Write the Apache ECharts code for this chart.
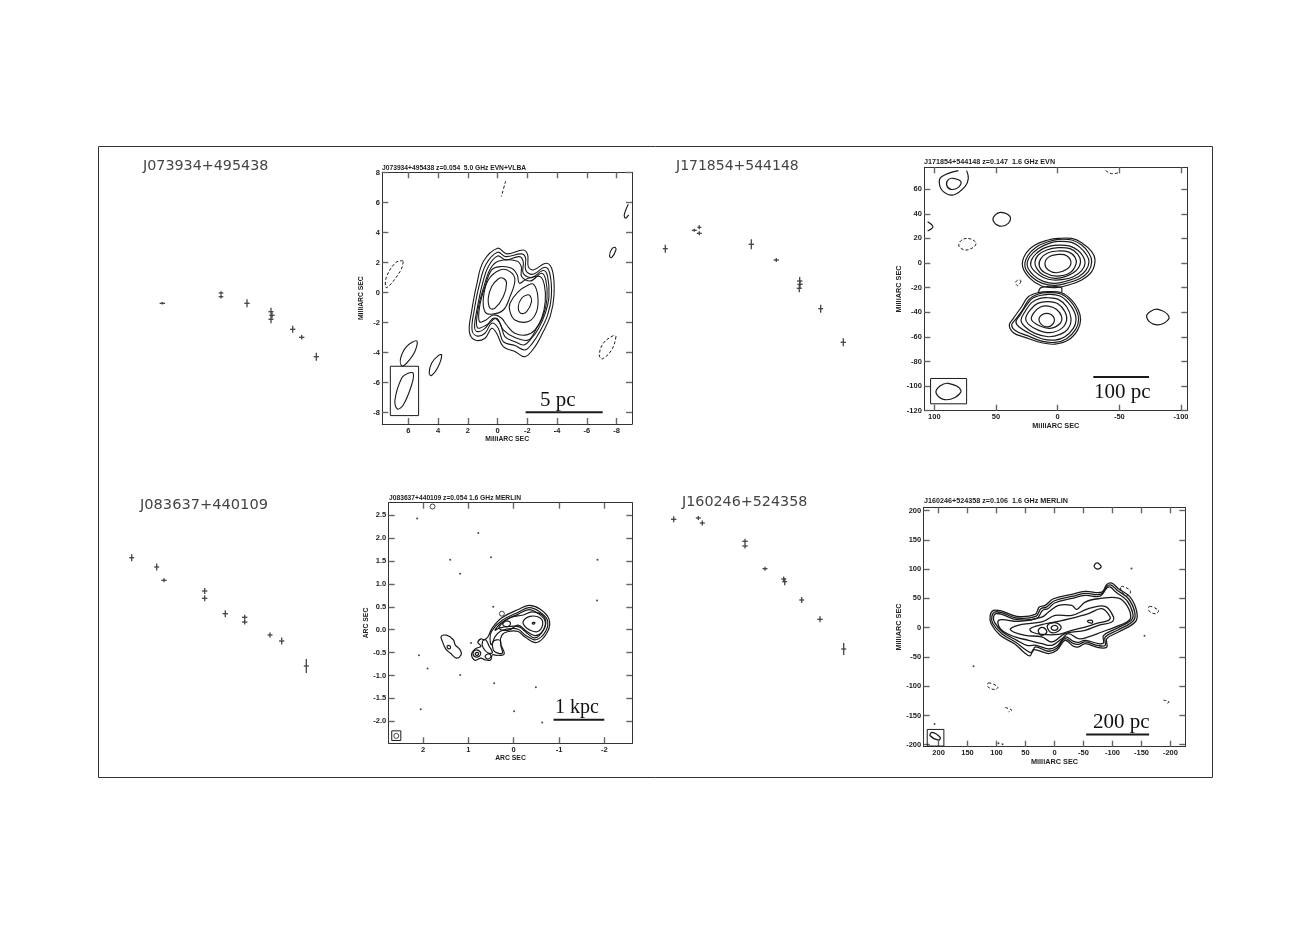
<!DOCTYPE html>
<html>
<head>
<meta charset="utf-8">
<title>Radio maps and spectra</title>
<script src="https://cdn.jsdelivr.net/npm/echarts@6/dist/echarts.min.js"></script>
<style>
  html, body { margin: 0; background: #fff; }
  #main { width: 1311px; height: 926px; }
</style>
</head>
<body>
<div id="main"></div>
<script>
// spectra: [x, y, xErr, yErr] - the originals print no scale, so units are just what was read off
const specJ0739 = [[62.3,76.7,2.7,1.3],[121,87,2.3,1.7],[121,83.3,2.3,1.7],[147,76.7,2.7,4],[171,68.3,2.5,4],[172,64.7,2.7,3],[171,60.7,2.5,4],[192.7,50.7,2.7,3.5],[201.7,42.7,2.7,2.3],[216.3,23.3,2.7,4]];
const specJ1718 = [[25.3,131.3,2.5,4],[54.3,149.7,2.5,1.5],[59.3,152.7,2,2],[59.3,146.7,2.5,2],[111.3,135.7,2.7,5],[136.3,120,2.7,2],[159.7,99,2.7,4],[160,95.7,2.7,4],[159.3,91.7,2.5,4],[180.7,71.3,2.5,4],[203.3,37.7,2.7,4]];
const specJ0836 = [[31.7,132.3,2.5,3.5],[56.7,123,2.5,3.5],[64,109.7,2.7,2],[104.7,99,2.7,3],[104.7,91.7,2.7,3],[125.3,76.3,2.7,3.5],[144.7,72.7,2.7,2.5],[144.7,68,2.7,2.5],[170,55,2.5,2.5],[181.7,49,2.7,3.5],[206.3,24,2.5,7]];
const specJ1602 = [[33.7,150.7,2.7,3],[58.3,152,2.5,2],[62.3,147,2.5,2.5],[105,128.7,2.7,2.5],[105,124,2.7,2.5],[125,101.3,2.5,2],[143.7,91,2.5,2.5],[144.7,88.3,2.5,3.5],[161.7,70,2.5,3],[180,50.7,2.7,3],[203.7,21,2.5,6]];

// J073934 contours, mas
const a1 = [[0,2.96],[-0.6,2.58],[-1.72,2.84],[-2.02,2.51],[-2.06,1.73],[-2.4,1.51],[-3.29,1.96],[-3.7,1.4],[-3.79,-0.16],[-3.56,-1.49],[-3.07,-2.6],[-2.51,-3.6],[-1.84,-4.27],[-1.16,-3.93],[-0.38,-3.6],[0.07,-2.71],[0.4,-2.38],[0.85,-3.04],[1.52,-3.16],[1.9,-2.6],[1.75,-1.27],[1.41,0.51],[0.96,2.07]];
const a2 = [[0,2.69],[-0.54,2.4],[-1.61,2.58],[-1.88,2.29],[-1.88,1.51],[-2.35,1.22],[-3.2,1.69],[-3.52,1.22],[-3.61,-0.27],[-3.36,-1.49],[-2.84,-2.6],[-2.33,-3.38],[-1.84,-3.82],[-1.16,-3.53],[-0.38,-3.27],[-0.04,-2.38],[0.4,-2.04],[0.85,-2.71],[1.41,-2.89],[1.72,-2.49],[1.57,-1.16],[1.23,0.51],[0.78,1.89]];
const a3 = [[0,2.44],[-0.54,2.18],[-1.46,2.4],[-1.72,2.07],[-1.72,1.29],[-2.28,1],[-3.07,1.47],[-3.36,1.07],[-3.45,-0.27],[-3.2,-1.38],[-2.73,-2.42],[-2.28,-3.04],[-1.77,-3.49],[-1.16,-3.27],[-0.49,-2.93],[-0.16,-2.04],[0.29,-1.71],[0.85,-2.38],[1.37,-2.6],[1.55,-2.27],[1.37,-1.04],[1.05,0.47],[0.63,1.73]];
const a4 = [[-0.09,2.11],[-1.28,2.11],[-1.59,1.73],[-1.61,1.07],[-2.22,0.78],[-2.96,1.29],[-3.25,0.78],[-3.32,-0.38],[-3.07,-1.53],[-2.62,-2.38],[-2.06,-3.16],[-1.16,-3],[-0.38,-2.49],[0.07,-1.71],[0.74,-2.16],[1.37,-2.33],[1.3,-1.04],[0.92,0.4],[0.47,1.62]];
const a5 = [[-0.16,1.73],[-0.94,1.62],[-1.32,1.18],[-1.46,0.62],[-1.95,0.91],[-2.84,1.07],[-3.14,0.51],[-3.2,-0.6],[-2.96,-1.71],[-2.51,-2.49],[-1.95,-2.82],[-1.16,-2.71],[-0.6,-2.16],[-0.27,-1.71],[0.29,-1.49],[0.78,-1.82],[1.23,-1.93],[1.19,-0.82],[0.85,0.4],[0.4,1.51]];
const aLeft1 = [[-0.16,1.51],[-0.83,1.4],[-1.16,0.84],[-0.83,-0.27],[-0.38,-1.16],[0.4,-1.44],[0.85,-1.27],[0.96,-0.38],[0.63,0.84]];
const aLeft2 = [[-0.38,0.96],[-0.6,0.62],[-0.38,-0.27],[0.18,-1.04],[0.51,-1.04],[0.63,-0.38],[0.4,0.4],[-0.04,0.91]];
const aRight1 = [[-2.4,0.56],[-2.69,-0.16],[-2.62,-1.27],[-2.06,-1.93],[-1.16,-1.82],[-0.83,-1.27],[-0.83,-0.71],[-1.39,0.07],[-2.06,0.51]];
const aRight2 = [[-2.17,-0.2],[-2.28,-0.6],[-1.95,-1.27],[-1.55,-1.38],[-1.39,-0.93],[-1.61,-0.38],[-1.95,-0.16]];
const aSw1 = [[5.44,-3.22],[5.56,-3.93],[6.12,-4.71],[6.45,-4.87],[6.52,-4.38],[6.12,-3.6]];
const aSw2 = [[3.76,-4.16],[3.99,-4.93],[4.44,-5.53],[4.6,-5.38],[4.44,-4.71],[3.99,-4.2]];
const aBeam = [[5.67,-5.38],[5.78,-6.16],[6.34,-7.49],[6.74,-7.76],[6.9,-7.16],[6.45,-5.71],[6,-5.38]];
const aNe = [[-7.89,3.02],[-7.95,2.84],[-7.66,2.33],[-7.52,2.44],[-7.66,2.89]];
const aEdge = [[-8.78,5.89],[-8.51,5.18],[-8.6,4.96],[-8.8,5.18]];
const aNeg1 = [[6.34,2.07],[6.56,1.4],[7.46,0.33],[7.5,0.96],[6.9,1.96],[6.45,2.13]];
const aNeg2 = [[-7.95,-2.93],[-7.66,-3.82],[-7.03,-4.42],[-6.83,-4.16],[-7.1,-3.38],[-7.77,-2.87]];
const aNeg3 = [[-0.54,7.44],[-0.25,6.4]];
const aBox = [[7.21,-4.91],[5.31,-4.91],[5.31,-8.2],[7.21,-8.2],[7.21,-4.91]];
const aBar = [[-1.88,-7.98],[-7.06,-7.98]];

// J171854 contours, mas
const b1 = [[-0.5,20],[-11.4,20],[-19.5,16.5],[-27.6,9.2],[-30.3,2.4],[-27.6,-7],[-19.5,-13.8],[-8.6,-17.9],[2.2,-20],[13,-18.7],[22.4,-12.5],[28.4,-3],[26.5,6.5],[18.4,14.6],[7.6,18.7]];
const b2 = [[-0.5,19.2],[-11.4,18.7],[-19.5,14.6],[-25.4,7.9],[-27.6,1.1],[-24.9,-7],[-18.1,-12.5],[-8.6,-16],[2.2,-18.2],[12.4,-16.5],[21.1,-11.1],[26.5,-3],[24.3,5.7],[17,13.3],[7.6,17.3]];
const b3 = [[-0.5,17.6],[-11.4,16.8],[-18.1,12.7],[-23.5,6.5],[-25.4,1.1],[-23,-5.7],[-16.8,-11.1],[-7.3,-14.6],[2.2,-16.5],[11.6,-14.9],[19.7,-9.8],[24.6,-2.4],[22.7,5.1],[15.7,11.9],[7,16]];
const b4 = [[-0.5,14.6],[-10,13.8],[-16.8,10],[-20.8,5.1],[-22.2,-0.3],[-19.5,-6.2],[-12.7,-11.1],[-4.6,-13.3],[3.5,-13.8],[11.6,-11.7],[18.4,-7],[21.9,-1.6],[19.7,5.1],[13,11.1],[6.2,13.8]];
const b5 = [[-0.5,12.5],[-10,11.7],[-16.2,7.3],[-18.6,1.1],[-15.4,-5.7],[-7.3,-10.6],[2.2,-12.5],[11.6,-9.8],[17,-4.3],[18.4,1.1],[15.7,6.5],[8.9,10.6]];
const b6 = [[-0.5,9.8],[-9.2,8.9],[-14.1,4.6],[-14.9,-0.8],[-10,-7.9],[0.8,-10.6],[10.3,-7.9],[14.9,-2.4],[13.5,3.8],[7.6,8.4]];
const b7 = [[-0.5,7],[-7.3,6],[-10.8,0.3],[-7.3,-5.1],[0.8,-7.9],[7.6,-5.7],[10.3,-0.8],[7.6,4.6]];
const c1 = [[7.6,-23.3],[-3.2,-24.1],[-11.4,-30.1],[-16.8,-38.2],[-18.6,-46.3],[-16.2,-54.5],[-8.6,-62.6],[2.2,-65.9],[13,-64.8],[26.5,-60.4],[35.9,-56.6],[39.2,-50.4],[35.9,-45],[29.2,-35.5],[23.8,-27.4],[15.7,-24.1]];
const c2 = [[7.6,-24.1],[-2.7,-25.2],[-10,-30.6],[-15.4,-38.8],[-17,-46.3],[-14.6,-53.9],[-7.3,-61.5],[2.2,-64.5],[13,-63.4],[25.1,-58.8],[34.1,-55],[37.3,-50.4],[34.1,-45.8],[28.1,-37.7],[23.2,-29.5],[15.7,-25.2]];
const c3 = [[7.6,-25.5],[-1.9,-26.8],[-8.6,-32.2],[-13.5,-39.6],[-14.9,-46.3],[-12.7,-53.1],[-5.9,-59.9],[2.2,-62.6],[13,-61.5],[23.8,-56.6],[31.4,-51.8],[33.8,-47.7],[30.5,-42.3],[25.1,-34.1],[19.7,-28.2]];
const c4 = [[7.6,-28.2],[-0.5,-29.5],[-7.3,-35.5],[-10.8,-45],[-8.6,-53.1],[-1.9,-58],[7.6,-59.9],[18.4,-57.2],[26.5,-51.8],[29.7,-46.3],[26.5,-39.6],[21.1,-32.2],[14.3,-28.7]];
const c5 = [[7.6,-31.4],[-0.5,-33.3],[-5.9,-39.6],[-7.3,-46.3],[-3.2,-53.1],[6.2,-56.6],[15.7,-54.5],[23.8,-49.6],[25.9,-45],[22.4,-38.2],[16.2,-32.8]];
const c6 = [[7.6,-35],[0.8,-37.7],[-3.2,-43.6],[-1.9,-49.1],[6.2,-53.1],[14.3,-51.2],[21.1,-46.3],[19.7,-40.9],[14.3,-36]];
const c7 = [[8.9,-40.9],[3.5,-43.6],[3.5,-49.1],[8.9,-51.8],[14.3,-48.5],[14.3,-43.6]];
const bBridge = [[15.7,-23.8],[13,-19.8],[-2.7,-19.8],[-3.2,-24.1]];
const bTopOuter = [[73.8,75.1],[72.4,68.8],[75.1,62.1],[84.6,55.3],[92.7,58],[95.9,64.8],[94.1,70.2],[80.5,75.1]];
const bTopInner = [[84.6,68.8],[78.4,66.1],[80.5,61.5],[86.5,59.9],[90,63.4],[88.6,67.8]];
const bIsland = [[45.9,41.2],[38.6,37.7],[40,32.2],[46.8,30],[52.2,34.3],[50.8,38.9]];
const bArc = [[105.4,33.6],[101.1,29.5],[105.4,26]];
const bEast = [[-81.6,-37.7],[-90.3,-43.6],[-85.7,-49.1],[-77.6,-49.6],[-72.2,-44.2],[-74.9,-39.6]];
const bBeam = [[88.6,-97.8],[78.4,-103.3],[83.2,-109.2],[92.7,-110.8],[98.6,-105.4],[95.4,-100]];
const bNeg1 = [[72.4,20],[66.2,16.5],[68.4,12.7],[75.1,10.6],[80,13.8],[78.4,18.2]];
const bNeg2 = [[29.7,-14.6],[32.4,-18.4],[34.1,-15.7],[31.9,-13.8]];
const bNeg3 = [[-38.9,75.1],[-43.8,72.6],[-49.2,73.4]];
const bBox = [[103,-93.8],[73.8,-93.8],[73.8,-114.4],[103,-114.4],[103,-93.8]];
const bBar = [[-28.9,-92.7],[-74.1,-92.7]];

// J083637 contours, arcsec
const d1 = [[0.72,-0.2],[0.65,-0.22],[0.57,-0.16],[0.47,0.04],[0.26,0.26],[-0.1,0.44],[-0.34,0.53],[-0.58,0.45],[-0.78,0.23],[-0.75,-0.04],[-0.51,-0.28],[-0.25,-0.16],[-0.1,-0.04],[0.12,-0.04],[0.26,-0.12],[0.29,-0.29],[0.21,-0.53],[0.38,-0.56],[0.47,-0.55],[0.51,-0.66],[0.63,-0.66],[0.72,-0.62],[0.85,-0.67],[0.93,-0.55],[0.85,-0.42],[0.72,-0.36],[0.79,-0.28]];
const d2 = [[0.49,-0.04],[0.26,0.2],[-0.1,0.38],[-0.34,0.48],[-0.56,0.4],[-0.74,0.22],[-0.71,-0.03],[-0.49,-0.22],[-0.26,-0.12],[-0.1,0.01],[0.12,0.02],[0.3,-0.04],[0.41,-0.15],[0.49,-0.33],[0.52,-0.22]];
const d3 = [[0.41,-0.01],[0.23,0.18],[-0.1,0.34],[-0.34,0.44],[-0.53,0.36],[-0.69,0.2],[-0.66,0],[-0.47,-0.18],[-0.29,-0.07],[-0.12,0.06],[0.12,0.07],[0.3,0.04]];
const d4 = [[0.32,0.06],[0.08,0.26],[-0.21,0.32],[-0.4,0.39],[-0.63,0.32],[-0.71,0.15],[-0.62,-0.06],[-0.47,-0.13],[-0.29,-0.04],[-0.1,0.1],[0.08,0],[0.26,-0.01]];
const dCore = [[-0.21,0.18],[-0.36,0.29],[-0.58,0.26],[-0.64,0.11],[-0.53,-0.04],[-0.36,-0.01],[-0.25,0.07]];
const dCoreDot = [[-0.44,0.16],[-0.47,0.15],[-0.44,0.12],[-0.41,0.14]];
const dKnot = [[0.24,0.13],[0.15,0.19],[0.07,0.15],[0.12,0.07],[0.21,0.08]];
const dRib1 = [[0.45,-0.26],[0.3,-0.23],[0.28,-0.36],[0.25,-0.51],[0.38,-0.5],[0.45,-0.44]];
const dRib2 = [[0.69,-0.26],[0.62,-0.22],[0.54,-0.36],[0.47,-0.5],[0.56,-0.51],[0.67,-0.4]];
const dRing1 = [[0.89,-0.49],[0.82,-0.44],[0.73,-0.5],[0.76,-0.58],[0.87,-0.58]];
const dRing1b = [[0.84,-0.51],[0.79,-0.5],[0.77,-0.53],[0.8,-0.56],[0.84,-0.55]];
const dRing2 = [[0.62,-0.56],[0.54,-0.53],[0.5,-0.58],[0.56,-0.64],[0.62,-0.61]];
const dWest = [[1.6,-0.15],[1.48,-0.12],[1.33,-0.22],[1.29,-0.33],[1.18,-0.44],[1.16,-0.55],[1.26,-0.62],[1.4,-0.51],[1.5,-0.42],[1.57,-0.26]];
const dWestDot = [[1.46,-0.35],[1.4,-0.36],[1.4,-0.41],[1.46,-0.4]];
const dSpecks = [[2.13,2.43],[0.78,2.11],[1.4,1.53],[0.5,1.58],[-1.85,1.53],[-1.84,0.64],[0.45,0.5],[0.94,-0.29],[2.09,-0.56],[1.9,-0.85],[1.18,-0.99],[0.43,-1.17],[-0.49,-1.26],[2.05,-1.74],[-0.01,-1.78],[-0.63,-2.03],[1.18,1.22]];
const dRings = [[1.79,2.69],[0.26,0.35],[2.59,-2.32]];
const dBox = [[2.69,-2.21],[2.49,-2.21],[2.49,-2.42],[2.69,-2.42],[2.69,-2.21]];
const dBar = [[-0.88,-1.97],[-2,-1.97]];

// J160246 contours, mas
const e1 = [[110.9,21],[105.2,29.5],[90.8,28.4],[64.9,19.3],[33.3,22.7],[26.4,35.2],[16.1,38.1],[1.7,49.4],[-29.9,56.8],[-52.9,61.9],[-81.6,60.8],[-90.2,73.9],[-98.9,76.1],[-110.3,66.5],[-130.5,52.3],[-142,26.7],[-139.1,9.7],[-110.3,-7.4],[-90.2,-18.8],[-90.2,-33],[-75.9,-34.1],[-52.9,-27.3],[-41.4,-33],[-32.8,-31.8],[-18.4,-21.6],[-4,-38.6],[10.3,-44.3],[36.2,-37.5],[42,-48.3],[53.4,-41.5],[67.8,-28.4],[93.7,-13.1],[109.2,6.8]];
const e2 = [[108,19.3],[103.4,26.7],[90.8,25.6],[64.9,16.5],[32.2,19.3],[23.6,32.4],[13.8,35.2],[0,46],[-29.9,53.4],[-52.9,58.5],[-80.5,57.4],[-90.2,70.5],[-97.7,72.7],[-108.6,63.6],[-127.6,49.4],[-138.5,25.6],[-135.6,11.4],[-108.6,-4.5],[-87.4,-15.9],[-87.4,-30.1],[-75.9,-30.7],[-52.9,-24.4],[-41.4,-28.4],[-32.8,-27.3],[-18.4,-18.8],[-4,-35.2],[10.3,-40.3],[33.3,-33],[39.1,-42.6],[51.7,-36.4],[66.7,-25],[90.8,-10.2],[106.9,8]];
const e3 = [[105.2,18.2],[101.1,23.9],[90.8,22.7],[64.9,13.6],[30.5,15.9],[20.7,29.5],[11.5,32.4],[-1.1,42.6],[-29.9,50],[-52.9,55.1],[-78.7,54],[-90.2,67.6],[-96.6,69.3],[-105.7,60.8],[-124.7,46.6],[-135.1,23.9],[-132.2,12.5],[-106.3,-1.7],[-84.5,-13.6],[-84.5,-26.1],[-75.9,-27.3],[-52.9,-21.6],[-41.4,-25],[-32.8,-23.3],[-18.4,-15.9],[-4,-31.8],[10.3,-36.4],[31.6,-30.1],[47.7,-30.1],[64.9,-21.6],[89.7,-7.4],[103.4,9.1]];
const e4 = [[97.7,9.7],[90.8,13.6],[62.1,10.8],[21.8,18.2],[10.3,26.7],[-6.9,38.1],[-29.9,38.1],[-38.5,31.3],[-52.9,43.8],[-75.9,49.4],[-110.3,50.6],[-124.7,38.1],[-131.6,18.2],[-124.7,9.7],[-104.6,1.1],[-81.6,-7.4],[-58.6,-15.9],[-41.4,-18.8],[-24.1,-10.2],[-12.6,-18.8],[4.6,-30.1],[21.8,-27.3],[44.8,-21.6],[67.8,-15.9],[90.8,-4.5]];
const e5 = [[75.9,-1.7],[56.3,5.7],[21.8,9.7],[-1.1,21],[-29.9,21],[-58.6,32.4],[-87.4,36.4],[-101.7,18.2],[-98.9,9.7],[-75.9,4],[-52.9,-4.5],[-18.4,-10.2],[4.6,-24.4],[21.8,-15.9],[50.6,-13.1],[70.7,-7.4]];
const e6 = [[42,-1.7],[21.8,5.1],[-1.1,9.7],[-27,15.3],[-58.6,23.9],[-81.6,32.4],[-96,18.2],[-93.1,12.5],[-75.9,8],[-52.9,1.1],[-29.9,-4.5],[-6.9,-11.4],[21.8,-11.4],[39.1,-7.4]];
const eKnot1 = [[26.4,-1.7],[19,0],[13.2,-7.4],[21.8,-13.1],[27.6,-7.4]];
const eKnot2 = [[12.1,4],[-1.1,8.5],[-11.5,1.1],[-4,-7.4],[7.5,-7.4]];
const eKnot2b = [[5.2,1.1],[-1.1,4],[-5.7,0],[-1.1,-4.5],[4.6,-2.8]];
const eKnot3 = [[-56.9,11.4],[-64.4,12.5],[-65.5,8.5],[-59.8,8.5]];
const eIsland = [[-73,110.8],[-80.5,104.5],[-74.7,100],[-68.4,104.5]];
const eBeam = [[211.5,-179],[197.1,-187.5],[200,-192],[214.4,-184.7]];
const eNeg1 = [[-115,70.5],[-130.5,63.6],[-127.6,55.1],[-116.1,60.8]];
const eNeg2 = [[-163.8,36.4],[-179.3,29.5],[-174.7,23.9],[-163.2,28.4]];
const eNeg3 = [[113.8,-94.3],[97.7,-101.1],[102.3,-105.7],[114.9,-101.1]];
const eNeg4 = [[85.1,-136.4],[73.6,-140.9],[79.3,-143.8]];
const eNeg5 = [[-187.9,-123.9],[-197.7,-126.7],[-193.7,-129.5]];
const eSpecks = [[-132.8,101.1],[-155.2,-13.6],[139.7,-65.9],[206.9,-164.8],[96.6,-197.7],[89.7,-199.4]];
const eBox = [[219.5,-173.9],[190.8,-173.9],[190.8,-202.3],[219.5,-202.3],[219.5,-173.9]];
const eBar = [[-54.6,-182.4],[-163.2,-182.4]];

// tick labels
const ticksAx = [6, 4, 2, 0, -2, -4, -6, -8];
const ticksAy = [8, 6, 4, 2, 0, -2, -4, -6, -8];
const ticksBx = [100, 50, 0, -50, -100];
const ticksBy = [60, 40, 20, 0, -20, -40, -60, -80, -100, -120];
const ticksDx = [2, 1, 0, -1, -2];
const ticksDy = [2.5, 2, 1.5, 1, 0.5, 0, -0.5, -1, -1.5, -2];
const ticksEx = [200, 150, 100, 50, 0, -50, -100, -150, -200];
const ticksEy = [200, 150, 100, 50, 0, -50, -100, -150, -200];

const INK = '#1a1a1a';
const CURVE = 0.38;

const maps = [
  { rect: [382.3, 172.3, 249.7, 251.7], xr: [-9.03, 7.75], yr: [-8.76, 8.02], xt: ticksAx, yt: ticksAy, dec: 0, unit: 'MilliARC SEC', nameSize: 6.8, w: 1.1,
    solid: [a1, a2, a3, a4, a5, aLeft1, aLeft2, aRight1, aRight2, aSw1, aSw2, aBeam, aNe],
    open: [aEdge], neg: [aNeg1, aNeg2], negOpen: [aNeg3], box: aBox, bar: aBar },
  { rect: [924.3, 167.3, 263, 243.4], xr: [-105.1, 108.1], yr: [-120, 77.8], xt: ticksBx, yt: ticksBy, dec: 0, unit: 'MilliARC SEC', nameSize: 7.3, w: 1.2,
    solid: [b1, b2, b3, b4, b5, b6, b7, c1, c2, c3, c4, c5, c6, c7, bTopInner, bIsland, bEast, bBeam],
    open: [bBridge, bTopOuter, bArc], neg: [bNeg1, bNeg2], negOpen: [bNeg3], box: bBox, bar: bBar },
  { rect: [388.7, 502.7, 243.6, 240.6], xr: [-2.618, 2.757], yr: [-2.482, 2.774], xt: ticksDx, yt: ticksDy, dec: 1, xdec: 0, unit: 'ARC SEC', nameSize: 6.8, w: 1.2,
    solid: [d1, d2, d3, d4, dCore, dCoreDot, dKnot, dRib1, dRib2, dRing1, dRing1b, dRing2, dWest, dWestDot],
    open: [], neg: [], negOpen: [], box: dBox, bar: dBar, specks: dSpecks, rings: dRings },
  { rect: [923.7, 507.3, 261.6, 239.4], xr: [-225.6, 225.6], yr: [-203.4, 205.7], xt: ticksEx, yt: ticksEy, dec: 0, unit: 'MilliARC SEC', nameSize: 7.3, w: 1.3,
    solid: [e1, e2, e3, e4, e5, e6, eKnot1, eKnot2, eKnot2b, eKnot3, eIsland, eBeam],
    open: [], neg: [eNeg1, eNeg2, eNeg3], negOpen: [eNeg4, eNeg5], box: eBox, bar: eBar, specks: eSpecks }
];

const spectra = [
  { data: specJ0739, rect: [100, 150, 240, 230] },
  { data: specJ1718, rect: [640, 150, 240, 230] },
  { data: specJ0836, rect: [100, 490, 240, 200] },
  { data: specJ1602, rect: [640, 490, 240, 180] }
];

const grid = [], xAxis = [], yAxis = [], series = [];

maps.forEach((m, i) => {
  grid.push({ left: m.rect[0], top: m.rect[1], width: m.rect[2], height: m.rect[3] });
  const line = { show: true, onZero: false, lineStyle: { color: '#333', width: 1 } };
  const tick = (vals) => ({ show: true, inside: true, length: 6, customValues: vals, lineStyle: { color: '#666', width: 1.4 } });
  const label = (vals, dec) => ({
    show: true, customValues: vals, margin: 2.5, color: '#222', fontSize: 7.5, fontWeight: 'bold', fontFamily: 'Liberation Sans',
    formatter: (v) => Number(v).toFixed(dec)
  });
  const nameStyle = { fontSize: m.nameSize, fontWeight: 'bold', color: '#222', fontFamily: 'Liberation Sans' };
  const xBase = { type: 'value', gridIndex: i, min: m.xr[0], max: m.xr[1], inverse: true, splitLine: { show: false }, axisLine: line };
  const yBase = { type: 'value', gridIndex: i, min: m.yr[0], max: m.yr[1], splitLine: { show: false }, axisLine: line };
  xAxis.push({ ...xBase, position: 'bottom', axisTick: tick(m.xt), axisLabel: label(m.xt, m.xdec !== undefined ? m.xdec : m.dec),
    name: m.unit, nameLocation: 'middle', nameGap: 8, nameTextStyle: nameStyle });
  xAxis.push({ ...xBase, position: 'top', axisTick: tick(m.xt), axisLabel: { show: false } });
  yAxis.push({ ...yBase, position: 'left', axisTick: tick(m.yt), axisLabel: label(m.yt, m.dec),
    name: m.unit, nameLocation: 'middle', nameGap: 18, nameTextStyle: nameStyle });
  yAxis.push({ ...yBase, position: 'right', axisTick: tick(m.yt), axisLabel: { show: false } });

  const axes = { xAxisIndex: i * 2, yAxisIndex: i * 2 };
  // one custom series per contour, zrender's poly smoothing gives round closed loops
  const contour = (pts, isClosed, dash, width) => series.push({
    type: 'custom', ...axes, data: pts, silent: true, clip: true, encode: { x: 0, y: 1 },
    renderItem: (params, api) => {
      if (params.dataIndex !== 0) return;
      return {
        type: isClosed ? 'polygon' : 'polyline',
        shape: { points: pts.map((p) => api.coord(p)), smooth: CURVE },
        style: { fill: 'none', stroke: INK, lineWidth: width, lineDash: dash }
      };
    }
  });
  const straight = (pts, width) => series.push({
    type: 'line', ...axes, data: pts, symbol: 'none', silent: true,
    lineStyle: { color: INK, width: width }
  });
  m.solid.forEach((c) => contour(c, true, null, m.w));
  m.open.forEach((c) => contour(c, false, null, m.w));
  m.neg.forEach((c) => contour(c, true, [3, 2], 1));
  m.negOpen.forEach((c) => contour(c, false, [3, 2], 1));
  straight(m.box, 1);
  straight(m.bar, 2);
  if (m.specks) series.push({ type: 'scatter', ...axes, data: m.specks, symbolSize: 2, silent: true, itemStyle: { color: INK } });
  if (m.rings) series.push({ type: 'scatter', ...axes, data: m.rings, symbolSize: 5, silent: true, itemStyle: { color: 'transparent', borderColor: INK, borderWidth: 1 } });
});

spectra.forEach((s, k) => {
  const g = grid.length;
  grid.push({ left: s.rect[0], top: s.rect[1], width: s.rect[2], height: s.rect[3] });
  xAxis.push({ type: 'value', gridIndex: g, min: 0, max: s.rect[2], show: false });
  yAxis.push({ type: 'value', gridIndex: g, min: 0, max: s.rect[3], show: false });
  series.push({
    type: 'custom', xAxisIndex: xAxis.length - 1, yAxisIndex: yAxis.length - 1, data: s.data, silent: true,
    encode: { x: 0, y: 1 },
    renderItem: (params, api) => {
      const x = api.value(0), y = api.value(1), xe = api.value(2), ye = api.value(3);
      const l = api.coord([x - xe, y]), r = api.coord([x + xe, y]);
      const t = api.coord([x, y + ye]), b = api.coord([x, y - ye]);
      const style = { stroke: '#444', lineWidth: 1.3, fill: null };
      return { type: 'group', children: [
        { type: 'line', shape: { x1: l[0], y1: l[1], x2: r[0], y2: r[1] }, style: style },
        { type: 'line', shape: { x1: t[0], y1: t[1], x2: b[0], y2: b[1] }, style: style }
      ] };
    }
  });
});

const sourceStyle = (size) => ({ fontFamily: 'DejaVu Sans', fontSize: size, fontWeight: 'normal', color: '#444' });
const headStyle = (size) => ({ fontFamily: 'Liberation Sans', fontSize: size, fontWeight: 'bold', color: '#222' });
const scaleStyle = (size) => ({ fontFamily: 'Liberation Serif', fontSize: size, fontWeight: 'normal', color: '#111' });
const title = [
  { text: 'J073934+495438', left: 143, top: 159, textStyle: sourceStyle(14.3) },
  { text: 'J171854+544148', left: 676, top: 159, textStyle: sourceStyle(14) },
  { text: 'J083637+440109', left: 140, top: 498, textStyle: sourceStyle(14.6) },
  { text: 'J160246+524358', left: 682, top: 495, textStyle: sourceStyle(14.3) },
  { text: 'J073934+495438 z=0.054  5.0 GHz EVN+VLBA', left: 382, top: 165, textStyle: headStyle(6.7) },
  { text: 'J171854+544148 z=0.147  1.6 GHz EVN', left: 924, top: 159, textStyle: headStyle(7.2) },
  { text: 'J083637+440109 z=0.054 1.6 GHz MERLIN', left: 389, top: 495, textStyle: headStyle(6.7) },
  { text: 'J160246+524358 z=0.106  1.6 GHz MERLIN', left: 924, top: 498, textStyle: headStyle(7.2) },
  { text: '5 pc', left: 540, top: 390, textStyle: scaleStyle(21) },
  { text: '100 pc', left: 1094, top: 382, textStyle: scaleStyle(21) },
  { text: '1 kpc', left: 555, top: 698, textStyle: scaleStyle(20) },
  { text: '200 pc', left: 1093, top: 712, textStyle: scaleStyle(21) }
].map((t) => ({ ...t, padding: 0 }));

const chart = echarts.init(document.getElementById('main'), null, { renderer: 'canvas' });
chart.setOption({
  animation: false,
  backgroundColor: '#fff',
  title: title,
  grid: grid,
  xAxis: xAxis,
  yAxis: yAxis,
  series: series,
  graphic: [{
    type: 'rect', silent: true, z: -1,
    shape: { x: 98.5, y: 146.5, width: 1114, height: 631 },
    style: { fill: null, stroke: '#333', lineWidth: 1 }
  }]
});
</script>
</body>
</html>
